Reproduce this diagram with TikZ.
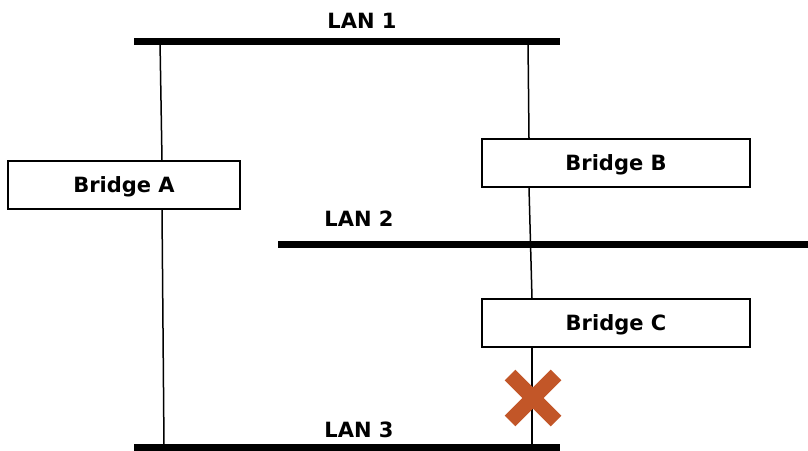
\documentclass[tikz,border=0pt]{standalone}
\usepackage{fontspec}
\setmainfont{DejaVu Sans}
\usepackage{xcolor}
\usetikzlibrary{shapes.misc, positioning, calc}
\definecolor{dark}{RGB}{0, 0, 0}
\definecolor{blocked}{RGB}{194, 86, 40}
\tikzset{
    bridge/.style={rectangle, draw=dark, line width=1.5pt, minimum width=232pt, minimum height=48pt, font=\fontsize{21}{24}\selectfont\bfseries, inner sep=0pt, text depth=0pt},
    bigbridge/.style={bridge, minimum width=268pt},
    lan/.style={line width=7pt, dark},
    lanlabel/.style={font=\fontsize{21}{24}\selectfont\bfseries, inner sep=0pt},
    link/.style={line width=1.5pt, dark},
    fail/.style={cross out, draw=blocked, line width=15pt, minimum size=46pt, inner sep=0pt, outer sep=0pt}
}

\begin{document}
\begin{tikzpicture}[x=1pt, y=-1pt]
        \fill[white] (0,0) rectangle (808,450);
        \useasboundingbox (0,0) rectangle (808,450);

        % LAN segments
        \coordinate (lan1w) at (134,41);
        \coordinate (lan1e) at (560,41);
        \coordinate (lan2w) at (278,244);
        \coordinate (lan2e) at (808,244);
        \coordinate (lan3w) at (134,447);
        \coordinate (lan3e) at (560,447);
        \draw[lan] (lan1w) -- (lan1e);
        \draw[lan] (lan2w) -- (lan2e);
        \draw[lan] (lan3w) -- (lan3e);
        \node[lanlabel] (lab1) at (362,21) {LAN 1};
        \node[lanlabel] (lab2) at (359,219) {LAN 2};
        \node[lanlabel] (lab3) at (359,430) {LAN 3};

        % bridges
        \node[bridge] (brA) at (124,185) {Bridge A};
        \node[bigbridge] (brB) at (616,163) {Bridge B};
        \node[bigbridge] (brC) at (616,323) {Bridge C};

        % taps on the LANs
        \coordinate (tapA1) at (160,41);
        \coordinate (tapA3) at (164,447);
        \coordinate (tapB1) at (528,41);
        \coordinate (tapC3) at (532,447);

        \draw[link] (tapA1) -- (162,0 |- brA.north);
        \draw[link] (162,0 |- brA.south) -- (tapA3);
        \draw[link] (tapB1) -- (529,0 |- brB.north);
        \draw[link] (529,0 |- brB.south) -- (532,0 |- brC.north);
        \draw[link] (532,0 |- brC.south) -- (tapC3);

        \node[fail] (cut) at (533,398) {};
    \end{tikzpicture}
\end{document}
